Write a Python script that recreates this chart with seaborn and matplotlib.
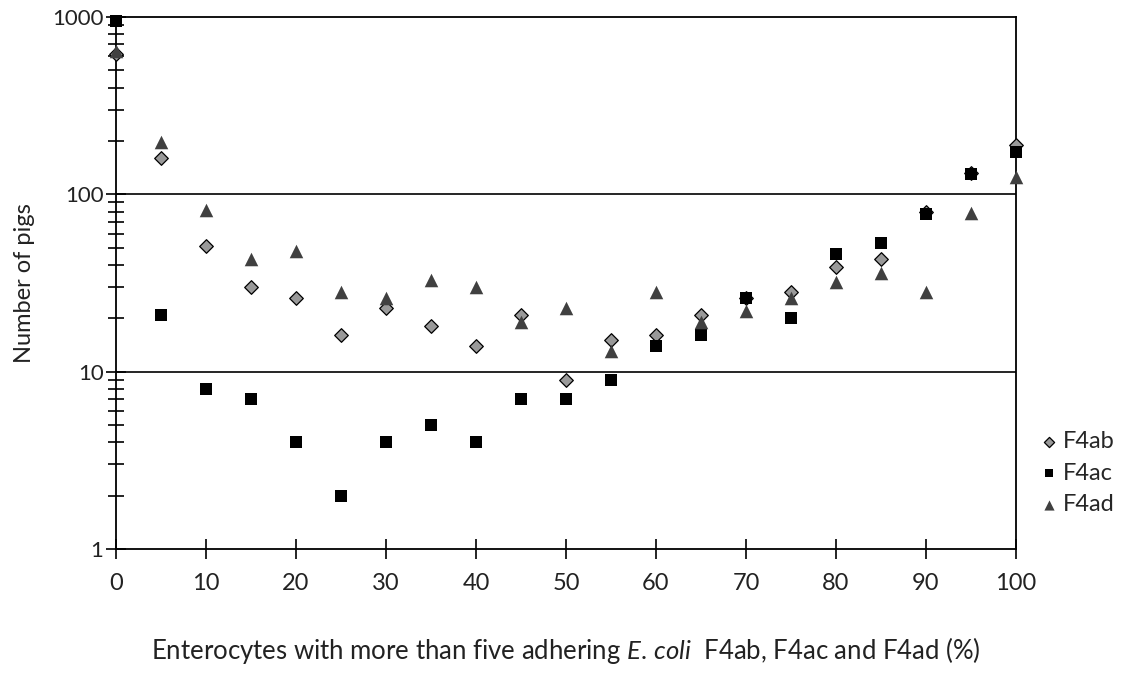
import numpy as np
import pandas as pd
import matplotlib
matplotlib.use("Agg")
import matplotlib.pyplot as plt
from matplotlib.ticker import LogLocator, NullFormatter, FixedLocator, FixedFormatter
import seaborn as sns

# Percentage of enterocytes with more than five adhering E. coli
adhesion_pct = [0, 5, 10, 15, 20, 25, 30, 35, 40, 45, 50,
                55, 60, 65, 70, 75, 80, 85, 90, 95, 100]

# Number of pigs per adhesion class
f4ab = [620, 160, 51, 30, 26, 16, 23, 18, 14, 21, 9,
        15, 16, 21, 26, 28, 39, 43, 80, 132, 190]
f4ac = [950, 21, 8, 7, 4, 2, 4, 5, 4, 7, 7,
        9, 14, 16, 26, 20, 46, 53, 77, 130, 174]
f4ad = [640, 197, 82, 43, 48, 28, 26, 33, 30, 19, 23,
        13, 28, 19, 22, 26, 32, 36, 28, 78, 125]

x_ticks = [0, 10, 20, 30, 40, 50, 60, 70, 80, 90, 100]
y_ticks = [1, 10, 100, 1000]
y_tick_labels = ["1", "10", "100", "1000"]

sns.set_theme(style="ticks")
plt.rcParams["font.family"] = ["Lato", "DejaVu Sans"]
plt.rcParams["mathtext.fontset"] = "custom"
plt.rcParams["mathtext.rm"] = "Lato"
plt.rcParams["mathtext.it"] = "Lato:italic"

fig = plt.figure(figsize=(11.23, 6.73), dpi=100)
ax = fig.add_axes([0.1033, 0.1843, 0.8014, 0.7904])

series = [
    ("F4ab", f4ab, "D", "#999999", "black", 0.9, 48),
    ("F4ac", f4ac, "s", "black", "black", 0.0, 70),
    ("F4ad", f4ad, "^", "#404040", "#404040", 0.0, 95),
]
for name, values, marker, face, edge, lw, size in series:
    df = pd.DataFrame({"x": adhesion_pct, "y": values})
    sns.scatterplot(data=df, x="x", y="y", ax=ax, marker=marker, s=size,
                    color=face, edgecolor=edge, linewidth=lw, label=name,
                    zorder=3, clip_on=False)

ax.set_yscale("log")
ax.set_xlim(0, 100)
ax.set_ylim(1, 1000)

ax.xaxis.set_major_locator(FixedLocator(x_ticks))
ax.yaxis.set_major_locator(FixedLocator(y_ticks))
ax.yaxis.set_major_formatter(FixedFormatter(y_tick_labels))
ax.yaxis.set_minor_locator(LogLocator(base=10, subs=np.arange(2, 10)))
ax.yaxis.set_minor_formatter(NullFormatter())

ax.tick_params(axis="x", which="major", direction="inout", length=14, width=1.2,
               color="black", labelsize=17, pad=10, labelcolor="#222222")
ax.tick_params(axis="y", which="major", direction="inout", length=14, width=1.2,
               color="black", labelsize=16, pad=2, labelcolor="#222222")
ax.tick_params(axis="y", which="minor", direction="inout", length=12, width=1.2,
               color="black")

for side in ["left", "bottom", "top", "right"]:
    ax.spines[side].set_visible(True)
    ax.spines[side].set_color("black")
    ax.spines[side].set_linewidth(1.3)

# Horizontal reference lines at each interior decade
for level in [10, 100]:
    ax.axhline(level, color="black", linewidth=1.2, zorder=1)

ax.set_ylabel("Number of pigs", fontsize=17, color="#222222", labelpad=12)
ax.set_xlabel(r"Enterocytes with more than five adhering $\it{E.\,coli}$  F4ab, F4ac and F4ad (%)",
              fontsize=18.5, color="#222222", labelpad=30)

leg = ax.legend(loc="center left", bbox_to_anchor=(0.915, 0.297),
                bbox_transform=fig.transFigure, frameon=False, fontsize=17,
                handletextpad=0.1, labelspacing=0.45, markerscale=0.75,
                borderaxespad=0, handlelength=1.0)

fig.savefig("out.png", dpi=100)
